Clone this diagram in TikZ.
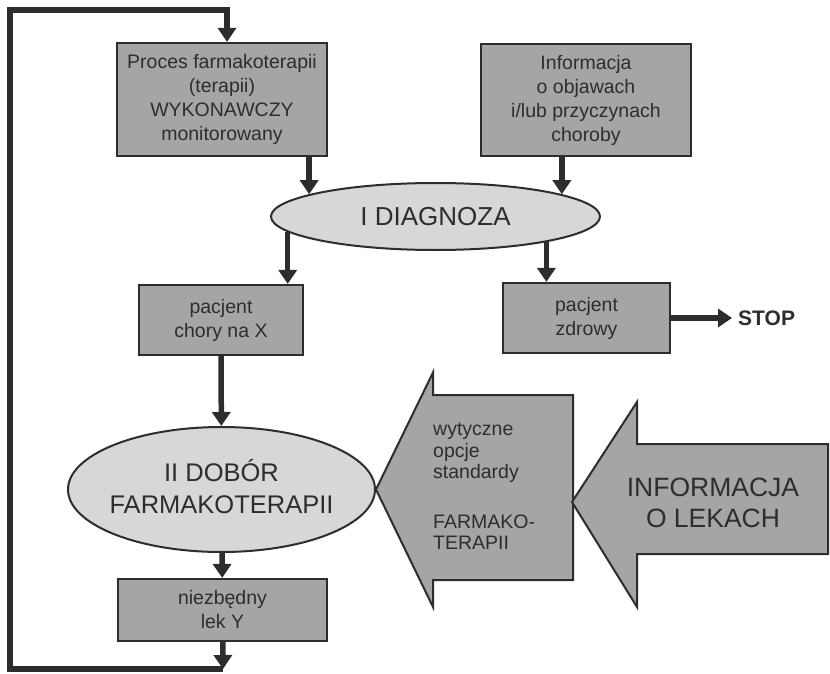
\documentclass[tikz,border=0pt]{standalone}
\usepackage{fontspec}
\setmainfont{Liberation Sans}
\usetikzlibrary{calc, arrows.meta, positioning, shapes.geometric}
\usepackage{xcolor}
\definecolor{ciemny}{RGB}{45,45,45}
\definecolor{szary}{RGB}{165,165,165}
\definecolor{jasny}{RGB}{215,215,215}

\begin{document}
\begin{tikzpicture}[x=1pt, y=-1pt, >={Triangle[width=18pt,length=14pt]}]
	\tikzstyle{box} = [draw=ciemny, line width=2.2pt, fill=szary, text=ciemny, align=center, inner sep=0pt, font=\fontsize{19.5}{24}\selectfont]
	\tikzstyle{oval} = [draw=ciemny, line width=2pt, fill=jasny, text=ciemny, ellipse, align=center, inner sep=0pt]
	\tikzstyle{flow} = [color=ciemny, line width=5.5pt]
	\tikzstyle{bigarrow} = [draw=ciemny, line width=2pt, fill=szary, line join=miter]
	\tikzstyle{invis} = [draw=none, text=ciemny, inner sep=0pt]

	\useasboundingbox (0,0) rectangle (830,674);

	\node[box, minimum width=210pt, minimum height=113pt] at (222,99.5) (proces) {Proces farmakoterapii\\(terapii)\\WYKONAWCZY\\monitorowany};
	\node[box, minimum width=210pt, minimum height=112pt] at (586,100) (objawy) {Informacja\\o objawach\\i/lub przyczynach\\choroby};
	\node[oval, minimum width=329pt, minimum height=67pt, font=\fontsize{26}{30}\selectfont] at (435.5,216.5) (diag) {I DIAGNOZA};
	\node[box, minimum width=164pt, minimum height=70pt] at (221,320) (chory) {pacjent\\chory na X};
	\node[box, minimum width=167pt, minimum height=70pt] at (586.5,318) (zdrowy) {pacjent\\zdrowy};
	\node[invis, anchor=west, inner xsep=6pt, font=\bfseries\fontsize{21}{24}\selectfont] at (732,318) (stop) {STOP};
	\node[oval, minimum width=307pt, minimum height=125pt] at (221.5,489.5) (dobor) {};
	\node[invis, align=center, font=\fontsize{25.5}{32}\selectfont] at (221.5,487) (dobortekst) {II DOBÓR\\FARMAKOTERAPII};
	\node[box, minimum width=209pt, minimum height=62pt] at (222.5,610) (lek) {niezbędny\\lek Y};

	% duze strzalki
	\coordinate (leki) at (572,502);
	\draw[bigarrow] (dobor.east) -- ++(57,-117) -- ++(0,22.5) -- ++(140,0) -- ++(0,185) -- ++(-140,0) -- ++(0,27) -- cycle;
	\draw[bigarrow] (leki) -- ++(65,-100) -- ++(0,42) -- ++(191,0) -- ++(0,110) -- ++(-191,0) -- ++(0,53) -- cycle;
	\node[invis, align=left, anchor=west, font=\fontsize{19.5}{21.5}\selectfont] at (433,486.5) (wytyczne) {wytyczne\\opcje\\standardy\\[28pt]FARMAKO-\\TERAPII};
	\node[invis, align=center, font=\fontsize{26.5}{31}\selectfont] at (713,503) (informacja) {INFORMACJA\\O LEKACH};

	% petla
	\coordinate (dol) at (223,669);
	\coordinate (lewo) at (10,669);
	\coordinate (gora) at (227,10);

	\path[flow, ->]
	(proces.south -| diag.170)	edge	(diag.170)
	(objawy.south -| diag.10)	edge	(diag.10)
	(diag.186)	edge	(diag.186 |- chory.north)
	(diag.347)	edge	(diag.347 |- zdrowy.north)
	(chory)	edge	(dobor)
	(dobor)	edge	(lek)
	(zdrowy)	edge	(stop)
	(lek)	edge	(dol);
	\draw[flow, line join=miter, ->] (dol) -- (lewo) |- (gora) -- (gora |- proces.north);
\end{tikzpicture}
\end{document}
